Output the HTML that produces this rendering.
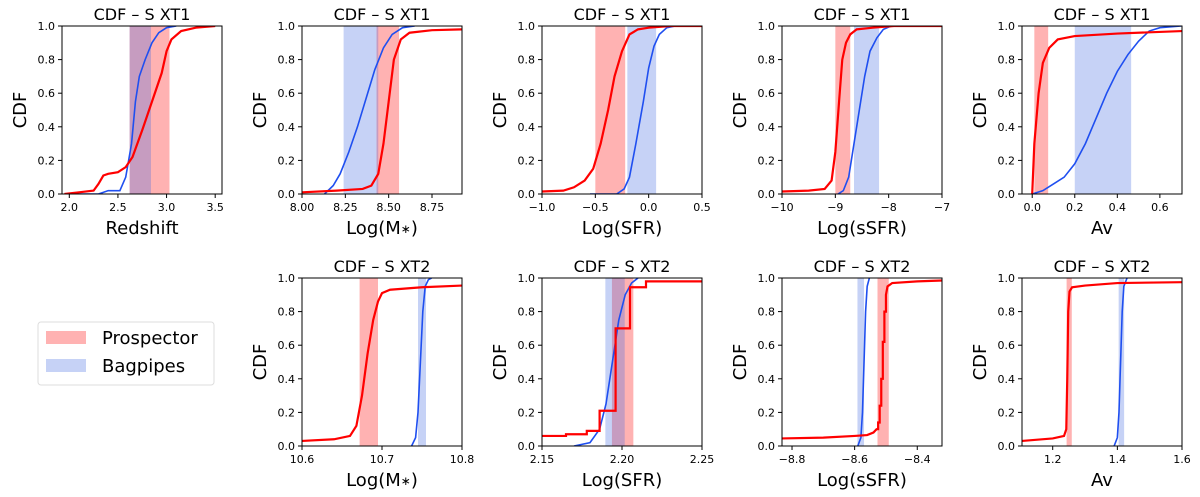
<!DOCTYPE html>
<html><head><meta charset="utf-8">
<style>
body{margin:0;background:#fff;}
svg{display:block;font-family:"DejaVu Sans","Liberation Sans",sans-serif;}
</style></head>
<body>
<svg id="fig" width="1200" height="497" viewBox="0 0 1200 497" xmlns="http://www.w3.org/2000/svg"></svg>
<script>
// ---- data ----
const panelTitles = ["CDF – S XT1","CDF – S XT1","CDF – S XT1","CDF – S XT1","CDF – S XT1","CDF – S XT2","CDF – S XT2","CDF – S XT2","CDF – S XT2"];
const xLabels = ["Redshift","Log(M*)","Log(SFR)","Log(sSFR)","Av","Log(M*)","Log(SFR)","Log(sSFR)","Av"];
const xDomains = [[1.925,3.57],[8.0,8.923],[-1.0,0.5],[-10,-7],[-0.048,0.704],[10.6,10.8],[2.15,2.25],[-8.832,-8.321],[1.105,1.6]];
const xTicks = [[2.0,2.5,3.0,3.5],[8.0,8.25,8.5,8.75],[-1.0,-0.5,0.0,0.5],[-10,-9,-8,-7],[0.0,0.2,0.4,0.6],[10.6,10.7,10.8],[2.15,2.2,2.25],[-8.8,-8.6,-8.4],[1.2,1.4,1.6]];
const xTickLabels = [["2.0","2.5","3.0","3.5"],["8.00","8.25","8.50","8.75"],["−1.0","−0.5","0.0","0.5"],["−10","−9","−8","−7"],["0.0","0.2","0.4","0.6"],["10.6","10.7","10.8"],["2.15","2.20","2.25"],["−8.8","−8.6","−8.4"],["1.2","1.4","1.6"]];
const yTicks = [0,0.2,0.4,0.6,0.8,1.0];
const yTickLabels = ["0.0","0.2","0.4","0.6","0.8","1.0"];
const redBands = [[2.62,3.03],[8.43,8.56],[-0.5,-0.22],[-9.0,-8.72],[0.01,0.075],[10.672,10.695],[2.1937,2.2071],[-8.527,-8.491],[1.243,1.259]];
const blueBands = [[2.62,2.84],[8.24,8.44],[-0.2,0.07],[-8.65,-8.18],[0.2,0.465],[10.745,10.755],[2.1896,2.2017],[-8.591,-8.57],[1.404,1.421]];
const redX = [
 [1.95,2.1,2.25,2.3,2.35,2.4,2.5,2.58,2.65,2.75,2.85,2.95,3.0,3.05,3.15,3.3,3.5],
 [8.0,8.2,8.35,8.4,8.44,8.47,8.5,8.53,8.57,8.62,8.75,8.92],
 [-1.0,-0.8,-0.7,-0.6,-0.52,-0.45,-0.38,-0.32,-0.25,-0.18,-0.1,0.0,0.2,0.5],
 [-10,-9.5,-9.2,-9.07,-9.0,-8.93,-8.87,-8.8,-8.72,-8.6,-8.3,-7.9,-7],
 [0.0,0.01,0.03,0.05,0.08,0.12,0.2,0.4,0.704],
 [10.6,10.64,10.66,10.668,10.675,10.682,10.689,10.695,10.70,10.71,10.75,10.8],
 [2.15,2.165,2.165,2.178,2.178,2.186,2.186,2.196,2.196,2.205,2.205,2.215,2.215,2.25],
 [-8.832,-8.7,-8.6,-8.56,-8.54,-8.53,-8.525,-8.525,-8.52,-8.52,-8.515,-8.515,-8.51,-8.51,-8.505,-8.505,-8.5,-8.5,-8.495,-8.48,-8.4,-8.321],
 [1.105,1.2,1.235,1.242,1.245,1.248,1.252,1.26,1.3,1.4,1.6]
];
const redY = [
 [0,0.01,0.02,0.06,0.11,0.12,0.13,0.16,0.22,0.38,0.55,0.72,0.85,0.92,0.97,0.99,1.0],
 [0.01,0.02,0.03,0.05,0.12,0.3,0.55,0.8,0.92,0.96,0.975,0.98],
 [0.015,0.02,0.04,0.08,0.15,0.3,0.5,0.7,0.85,0.95,0.98,0.99,1.0,1.0],
 [0.015,0.02,0.03,0.08,0.25,0.55,0.8,0.9,0.95,0.98,0.99,1.0,1.0],
 [0,0.3,0.6,0.78,0.87,0.92,0.94,0.955,0.97],
 [0.03,0.04,0.06,0.12,0.3,0.55,0.75,0.86,0.91,0.93,0.945,0.955],
 [0.06,0.06,0.07,0.07,0.09,0.09,0.21,0.21,0.70,0.70,0.945,0.945,0.98,0.98],
 [0.045,0.05,0.06,0.065,0.08,0.1,0.1,0.14,0.14,0.24,0.24,0.4,0.4,0.62,0.62,0.8,0.8,0.9,0.95,0.97,0.98,0.985],
 [0.03,0.045,0.06,0.1,0.4,0.8,0.92,0.945,0.955,0.97,0.975]
];
const blueX = [
 [2.0,2.3,2.4,2.52,2.58,2.64,2.68,2.72,2.78,2.85,2.92,3.0,3.1],
 [8.13,8.18,8.22,8.27,8.32,8.37,8.42,8.47,8.52,8.58,8.65],
 [-0.55,-0.3,-0.23,-0.18,-0.12,-0.05,0.0,0.05,0.1,0.17,0.25],
 [-8.95,-8.85,-8.75,-8.65,-8.55,-8.45,-8.35,-8.22,-8.1,-7.95],
 [0.0,0.05,0.1,0.15,0.2,0.25,0.3,0.35,0.4,0.45,0.5,0.55,0.6,0.7],
 [10.737,10.742,10.745,10.748,10.751,10.754,10.758,10.762],
 [2.17,2.18,2.186,2.19,2.194,2.198,2.202,2.206,2.21],
 [-8.59,-8.58,-8.575,-8.57,-8.565,-8.56,-8.553],
 [1.39,1.4,1.405,1.41,1.415,1.42,1.43]
];
const blueY = [
 [0,0,0.02,0.02,0.1,0.3,0.55,0.7,0.8,0.9,0.96,0.99,1.0],
 [0,0.05,0.12,0.25,0.4,0.57,0.74,0.87,0.95,0.99,1.0],
 [0,0,0.03,0.1,0.3,0.55,0.75,0.88,0.95,0.99,1.0],
 [0,0.02,0.1,0.3,0.5,0.7,0.85,0.93,0.98,1.0],
 [0,0.02,0.06,0.1,0.18,0.3,0.45,0.6,0.73,0.83,0.91,0.97,0.99,1.0],
 [0,0.05,0.2,0.5,0.8,0.95,0.99,1.0],
 [0,0.02,0.1,0.25,0.5,0.75,0.9,0.97,1.0],
 [0,0.05,0.2,0.5,0.8,0.95,1.0],
 [0,0.05,0.2,0.5,0.8,0.95,1.0]
];
const legendLabels = ["Prospector","Bagpipes"];

// ---- layout ----
const NS="http://www.w3.org/2000/svg";
const svg=document.getElementById('fig');
const PW=160, PH=168;
const lefts=[62,302,542,782,1022,302,542,782,1022];
const tops=[26,26,26,26,26,278,278,278,278];
function mk(tag,attrs,parent){const e=document.createElementNS(NS,tag);for(const k in attrs)e.setAttribute(k,attrs[k]);(parent||svg).appendChild(e);return e;}

for(let p=0;p<9;p++){
  const L=lefts[p],T=tops[p],d=xDomains[p];
  const sx=v=>L+(v-d[0])/(d[1]-d[0])*PW;
  const sy=v=>T+PH-v*PH;
  const g=mk('g',{});
  
  
  const cid='clip'+p;
  const cp=mk('clipPath',{id:cid},g);mk('rect',{x:L,y:T,width:PW,height:PH},cp);
  const rb=mk('rect',{x:sx(redBands[p][0]),y:T,width:sx(redBands[p][1])-sx(redBands[p][0]),height:PH,fill:'rgba(255,0,0,0.3)','clip-path':'url(#'+cid+')'},g);
  
  
  const bb=mk('rect',{x:sx(blueBands[p][0]),y:T,width:sx(blueBands[p][1])-sx(blueBands[p][0]),height:PH,fill:'rgba(65,105,225,0.3)','clip-path':'url(#'+cid+')'},g);
  
  
  const bpts=blueX[p].map((x,i)=>sx(x).toFixed(2)+','+sy(blueY[p][i]).toFixed(2)).join(' ');
  const bl=mk('polyline',{points:bpts,fill:'none',stroke:'#1f4ff0','stroke-width':1.6,'clip-path':'url(#'+cid+')'},g);
  
  
  const rpts=redX[p].map((x,i)=>sx(x).toFixed(2)+','+sy(redY[p][i]).toFixed(2)).join(' ');
  const rl=mk('polyline',{points:rpts,fill:'none',stroke:'#ff0000','stroke-width':2.2,'clip-path':'url(#'+cid+')'},g);
  
  
  mk('rect',{x:L,y:T,width:PW,height:PH,fill:'none',stroke:'#000','stroke-width':1},g);
  xTicks[p].forEach((t,i)=>{
    const x=sx(t);
    mk('line',{x1:x,y1:T+PH,x2:x,y2:T+PH+4,stroke:'#000'},g);
    const tx=mk('text',{x:x,y:T+PH+17,'font-size':11,'text-anchor':'middle'},g);
    tx.textContent=xTickLabels[p][i];
    
    
  });
  yTicks.forEach((t,i)=>{
    const y=sy(t);
    mk('line',{x1:L-4,y1:y,x2:L,y2:y,stroke:'#000'},g);
    const ty=mk('text',{x:L-7,y:y+4,'font-size':11,'text-anchor':'end'},g);
    ty.textContent=yTickLabels[i];
    
    
  });
  const tt=mk('text',{x:L+PW/2,y:T-6,'font-size':16,'text-anchor':'middle'},g);
  tt.textContent=panelTitles[p];
  
  
  const xl=mk('text',{x:L+PW/2,y:T+PH+40,'font-size':18,'text-anchor':'middle'},g);
  if(xLabels[p]==='Log(M*)'){xl.innerHTML='Log(M<tspan font-size="12" dy="-1">∗</tspan><tspan dy="1">)</tspan>';}
  else xl.textContent=xLabels[p];
  
  
  const yl=mk('text',{x:0,y:0,'font-size':18,'text-anchor':'middle',transform:'translate('+(L-36)+','+(T+PH/2)+') rotate(-90)'},g);
  yl.textContent='CDF';
  
  
}
// legend
const lg=mk('g',{});


mk('rect',{x:38,y:322,width:176,height:63,rx:3,fill:'#fff',stroke:'#ddd'},lg);
const cols=['rgba(255,0,0,0.3)','rgba(65,105,225,0.3)'];
legendLabels.forEach((lab,i)=>{
  const e=mk('g',{},lg);
  
  
  mk('rect',{x:46,y:331+i*28,width:40,height:13,fill:cols[i]},e);
  const t=mk('text',{x:102,y:344+i*28,'font-size':18},e);
  t.textContent=lab;
});
</script>
</body></html>
